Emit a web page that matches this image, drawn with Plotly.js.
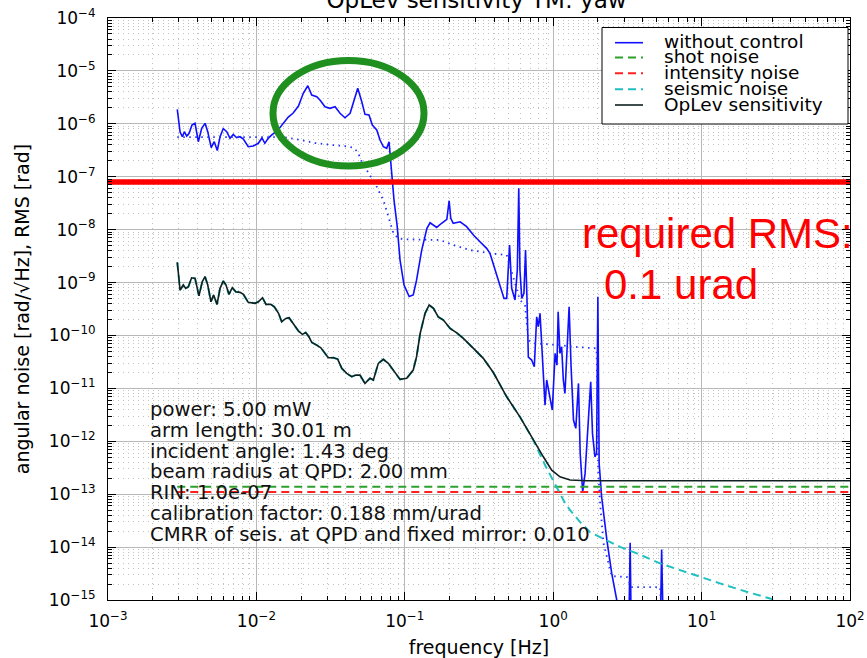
<!DOCTYPE html>
<html><head><meta charset="utf-8">
<script src="https://cdn.plot.ly/plotly-3.0.1.min.js"></script>
<style>html,body{margin:0;padding:0;background:#fff;}#chart{width:867px;height:658px;}</style>
</head><body><div id="chart"></div>
<script>
// ---- tick labels ----
const xTickVals = [1e-3, 1e-2, 1e-1, 1e0, 1e1, 1e2];
const xTickText = ['10<sup>−3</sup>', '10<sup>−2</sup>', '10<sup>−1</sup>', '10<sup>0</sup>', '10<sup>1</sup>', '10<sup>2</sup>'];
const yTickVals = [1e-15, 1e-14, 1e-13, 1e-12, 1e-11, 1e-10, 1e-9, 1e-8, 1e-7, 1e-6, 1e-5, 1e-4];
const yTickText = ['10<sup>−15</sup>', '10<sup>−14</sup>', '10<sup>−13</sup>', '10<sup>−12</sup>', '10<sup>−11</sup>', '10<sup>−10</sup>', '10<sup>−9</sup>', '10<sup>−8</sup>', '10<sup>−7</sup>', '10<sup>−6</sup>', '10<sup>−5</sup>', '10<sup>−4</sup>'];

// ---- without control (angular noise) ----
const ctrlFreq = [
 2.93e-3, 3.06e-3, 3.17e-3, 3.27e-3, 3.39e-3, 3.52e-3, 3.68e-3, 3.86e-3, 4.06e-3, 4.28e-3,
 4.51e-3, 4.70e-3, 4.96e-3, 5.20e-3, 5.45e-3, 5.69e-3, 5.98e-3, 6.31e-3, 6.64e-3, 6.99e-3,
 7.36e-3, 7.76e-3, 8.17e-3, 8.81e-3, 9.53e-3, 1.03e-2, 1.09e-2, 1.14e-2, 1.20e-2, 1.28e-2,
 1.37e-2, 1.49e-2, 1.64e-2, 1.77e-2, 1.92e-2, 2.07e-2, 2.22e-2, 2.36e-2, 2.55e-2, 2.68e-2,
 2.90e-2, 3.13e-2, 3.39e-2, 3.66e-2, 3.95e-2, 4.28e-2, 4.50e-2, 4.82e-2, 5.13e-2, 5.39e-2,
 5.74e-2, 6.04e-2, 6.47e-2, 6.81e-2, 7.17e-2, 7.55e-2, 7.83e-2, 8.07e-2, 8.46e-2, 8.87e-2,
 9.29e-2, 9.88e-2, 0.107, 0.114, 0.120, 0.130, 0.141, 0.148, 0.164, 0.177,
 0.192, 0.199, 0.204, 0.212, 0.236, 0.261, 0.290, 0.321, 0.356, 0.375,
 0.405, 0.438, 0.466, 0.486, 0.508, 0.525, 0.553, 0.573, 0.586, 0.597,
 0.614, 0.635, 0.651, 0.666, 0.680, 0.716, 0.746, 0.774, 0.794, 0.815,
 0.837, 0.881, 0.904, 0.953, 0.986, 1.03, 1.06, 1.08, 1.11, 1.14,
 1.17, 1.20, 1.28, 1.32, 1.37, 1.42, 1.48, 1.52, 1.58, 1.64,
 1.72, 1.79, 1.84, 1.91, 1.96, 2.00, 2.04, 2.12, 2.30, 2.48,
 2.68, 2.82, 3.24, 3.30, 3.35, 5.28, 5.38, 5.50, 100
];
const ctrlVal = [
 1.88e-6, 7.00e-7, 5.70e-7, 7.10e-7, 5.87e-7, 6.61e-7, 9.48e-7, 1.02e-6, 4.59e-7, 8.22e-7,
 1.02e-6, 7.10e-7, 3.56e-7, 4.59e-7, 3.13e-7, 5.70e-7, 8.15e-7, 7.10e-7, 5.32e-7, 6.33e-7,
 5.46e-7, 5.70e-7, 5.16e-7, 3.69e-7, 3.80e-7, 4.28e-7, 5.40e-7, 4.28e-7, 5.32e-7, 6.33e-7,
 7.10e-7, 9.48e-7, 1.34e-6, 1.60e-6, 2.17e-6, 3.78e-6, 5.25e-6, 3.50e-6, 3.25e-6, 2.82e-6,
 2.10e-6, 1.96e-6, 2.10e-6, 1.58e-6, 1.30e-6, 1.58e-6, 2.44e-6, 4.69e-6, 2.62e-6, 1.51e-6,
 1.47e-6, 9.48e-7, 7.64e-7, 4.94e-7, 3.69e-7, 3.44e-7, 4.59e-7, 1.66e-7, 3.62e-8, 1.22e-8,
 2.66e-9, 8.97e-10, 5.43e-10, 5.81e-10, 1.11e-9, 4.11e-9, 1.06e-8, 1.35e-8, 1.10e-8, 1.32e-8,
 1.57e-8, 3.52e-8, 1.64e-8, 1.32e-8, 1.41e-8, 1.14e-8, 7.91e-9, 5.90e-9, 4.43e-9, 3.56e-9,
 1.72e-9, 8.33e-10, 5.02e-10, 5.02e-10, 5.12e-9, 7.77e-10, 4.67e-10, 1.72e-9, 6.04e-8, 1.72e-9,
 5.02e-10, 6.25e-10, 4.11e-9, 4.67e-10, 3.90e-11, 3.43e-11, 2.56e-11, 2.25e-10, 1.46e-10, 2.62e-10,
 6.11e-11, 4.83e-12, 1.44e-11, 6.01e-12, 3.89e-12, 4.58e-11, 2.75e-11, 2.81e-10, 4.58e-11, 6.11e-11,
 1.44e-11, 8.04e-12, 3.48e-10, 2.56e-11, 2.52e-12, 1.75e-12, 1.24e-11, 5.90e-13, 1.11e-13, 2.47e-13,
 2.52e-12, 1.33e-11, 1.41e-12, 5.09e-13, 5.90e-13, 5.40e-10, 3.82e-13, 8.93e-14, 1.36e-14, 3.18e-15,
 1.0e-15, 4e-16, 4e-16, 1.21e-14, 4e-16, 4e-16, 9.04e-15, 4e-16, 2e-16
];

// ---- RMS of "without control" (dotted) ----
const rmsFreq = [
 2.93e-3, 1.51e-2, 1.92e-2, 2.48e-2, 3.22e-2, 3.95e-2, 4.50e-2, 4.82e-2, 5.13e-2, 5.83e-2,
 6.47e-2, 7.17e-2, 7.74e-2, 8.37e-2, 9.04e-2, 0.103, 0.173, 0.212, 0.275, 0.375,
 0.486, 0.597, 0.646, 0.680, 0.735, 0.904, 1.11, 1.37, 1.96, 2.01,
 2.07, 2.18, 2.35, 2.48, 3.15, 3.35, 5.25, 5.41
];
const rmsVal = [
 5.62e-7, 5.62e-7, 5.05e-7, 4.34e-7, 3.97e-7, 3.80e-7, 3.53e-7, 2.93e-7, 1.92e-7, 1.08e-7,
 6.47e-8, 3.62e-8, 1.75e-8, 8.63e-9, 6.79e-9, 6.56e-9, 6.36e-9, 5.12e-9, 4.11e-9, 3.56e-9,
 3.31e-9, 4.67e-10, 3.76e-10, 8.18e-11, 7.1e-11, 6.9e-11, 6.58e-11, 6.11e-11, 5.70e-11, 2.85e-13,
 6.79e-14, 1.19e-14, 5.20e-15, 2.83e-15, 2.71e-15, 1.75e-15, 1.75e-15, 4e-16
];

// ---- OpLev sensitivity ----
const opFreq = [
 2.93e-3, 3.06e-3, 3.22e-3, 3.34e-3, 3.48e-3, 3.66e-3, 3.86e-3, 4.10e-3, 4.32e-3, 4.51e-3,
 4.70e-3, 4.94e-3, 5.15e-3, 5.43e-3, 5.69e-3, 5.98e-3, 6.24e-3, 6.53e-3, 6.88e-3, 7.26e-3,
 7.76e-3, 8.17e-3, 8.81e-3, 9.79e-3, 1.03e-2, 1.10e-2, 1.16e-2, 1.25e-2, 1.32e-2, 1.41e-2,
 1.48e-2, 1.58e-2, 1.66e-2, 1.77e-2, 1.92e-2, 2.04e-2, 2.15e-2, 2.26e-2, 2.36e-2, 2.55e-2,
 2.72e-2, 2.90e-2, 3.05e-2, 3.30e-2, 3.53e-2, 3.76e-2, 4.06e-2, 4.39e-2, 4.67e-2, 4.99e-2,
 5.39e-2, 5.83e-2, 6.14e-2, 6.63e-2, 7.17e-2, 7.74e-2, 8.37e-2, 9.29e-2, 0.103, 0.114,
 0.120, 0.127, 0.137, 0.146, 0.156, 0.168, 0.182, 0.202, 0.224, 0.248,
 0.290, 0.338, 0.395, 0.486, 0.597, 0.735, 0.858, 0.977, 1.11, 1.30,
 1.68, 100
];
const opVal = [
 2.41e-9, 7.21e-10, 8.97e-10, 7.77e-10, 8.33e-10, 1.23e-9, 1.20e-9, 5.62e-10, 1.04e-9, 1.29e-9,
 8.97e-10, 4.34e-10, 5.81e-10, 3.87e-10, 7.77e-10, 1.07e-9, 8.97e-10, 5.98e-10, 7.98e-10, 6.70e-10,
 6.53e-10, 5.98e-10, 4.23e-10, 4.05e-10, 4.34e-10, 5.16e-10, 3.87e-10, 3.87e-10, 3.48e-10, 2.62e-10,
 1.82e-10, 2.10e-10, 2.16e-10, 1.69e-10, 1.21e-10, 1.05e-10, 1.14e-10, 9.44e-11, 7.40e-11, 6.58e-11,
 5.85e-11, 4.58e-11, 3.79e-11, 3.79e-11, 3.58e-11, 2.39e-11, 1.92e-11, 1.66e-11, 1.78e-11, 1.78e-11,
 1.24e-11, 1.55e-11, 1.44e-11, 2.97e-11, 3.53e-11, 2.97e-11, 2.22e-11, 1.48e-11, 1.55e-11, 2.22e-11,
 3.96e-11, 1.10e-10, 2.62e-10, 3.76e-10, 3.25e-10, 2.25e-10, 1.95e-10, 1.36e-10, 1.12e-10, 8.81e-11,
 5.70e-11, 3.69e-11, 1.99e-11, 6.93e-12, 2.90e-12, 1.05e-12, 5.09e-13, 2.85e-13, 2.13e-13, 1.85e-13,
 1.79e-13, 1.79e-13
];

// ---- seismic noise: below ~0.75 Hz it lies under the OpLev curve ----
const seisSharedPoints = 76;
const seisFreqHigh = [0.881, 0.982, 1.079, 1.202, 1.30, 1.52, 1.77, 2.18, 2.82, 3.66, 5.25, 7.16, 9.75, 13.3, 20.1, 28.9, 46.0, 100];
const seisValHigh = [3.55e-13, 2.01e-13, 1.19e-13, 6.79e-14, 5.00e-14, 2.96e-14, 1.92e-14, 1.46e-14, 1.01e-14, 7.60e-15, 4.92e-15, 3.67e-15, 2.74e-15, 2.06e-15, 1.43e-15, 1.07e-15, 6e-16, 3e-16];

// ---- flat noise levels ----
const flatFreq = [2.93e-3, 100];
const shotLevel = 1.38e-13;
const intensityLevel = 1.10e-13;
const requiredRms = 7.94e-8;
const rmsFreqSpan = [1e-3, 1e2];

// ---- texts ----
const titleText = 'OpLev sensitivity TM: yaw';
const infoLines = [
 'power: 5.00 mW',
 'arm length: 30.01 m',
 'incident angle: 1.43 deg',
 'beam radius at QPD: 2.00 mm',
 'RIN: 1.0e-07',
 'calibration factor: 0.188 mm/urad',
 'CMRR of seis. at QPD and fixed mirror: 0.010'
];
const legendLabels = ['without control', 'shot noise', 'intensity noise', 'seismic noise', 'OpLev sensitivity'];
const requiredText = ['required RMS:', '0.1 urad'];

// ---- styles ----
const styles = [
 {color: '#1010ff', width: 1.6, dash: 'solid'},
 {color: '#2ca02c', width: 2, dash: '8px,5px'},
 {color: '#ff2020', width: 2, dash: '8px,5px'},
 {color: '#20c0c0', width: 2, dash: '8px,5px'},
 {color: '#102020', width: 1.6, dash: 'solid'}
];

const traces = [
 {x: ctrlFreq, y: ctrlVal, name: legendLabels[0], mode: 'lines', line: styles[0], showlegend: false},
 {x: rmsFreq, y: rmsVal, name: 'RMS', mode: 'lines', line: {color: '#2030ff', width: 1.8, dash: '1.5px,4.5px'}, showlegend: false},
 {x: flatFreq, y: [shotLevel, shotLevel], name: legendLabels[1], mode: 'lines', line: styles[1], showlegend: false},
 {x: flatFreq, y: [intensityLevel, intensityLevel], name: legendLabels[2], mode: 'lines', line: styles[2], showlegend: false},
 {x: opFreq.slice(0, seisSharedPoints).concat(seisFreqHigh), y: opVal.slice(0, seisSharedPoints).concat(seisValHigh), name: legendLabels[3], mode: 'lines', line: styles[3], showlegend: false},
 {x: opFreq, y: opVal, name: legendLabels[4], mode: 'lines', line: styles[4], showlegend: false},
 {x: rmsFreqSpan, y: [requiredRms, requiredRms], name: 'required RMS', mode: 'lines', line: {color: '#ff0000', width: 5.5}, showlegend: false}
];

// plot area: x 108..850, y 18..600 px
const L = 108, R = 850, T = 18, B = 600;
const px = v => (v - L) / (R - L);
const py = v => 1 - (v - T) / (B - T);

const shapes = [];
const annotations = [];

// legend box
shapes.push({type: 'rect', xref: 'paper', yref: 'paper', x0: px(602), x1: px(848), y0: py(124), y1: py(27.5), line: {color: '#000', width: 1}, fillcolor: '#fff', layer: 'above'});
const legendRowY = [42.7, 57.5, 73.3, 89.2, 105];
legendLabels.forEach((lab, i) => {
  shapes.push({type: 'line', xref: 'paper', yref: 'paper', x0: px(615), x1: px(643), y0: py(legendRowY[i]), y1: py(legendRowY[i]), line: styles[i], layer: 'above'});
  annotations.push({xref: 'paper', yref: 'paper', x: px(662), y: py(legendRowY[i] - 1), xanchor: 'left', yanchor: 'middle', text: lab, showarrow: false, font: {family: 'DejaVu Sans', size: 18.5, color: '#000'}});
});

// ellipse highlight
shapes.push({type: 'circle', xref: 'paper', yref: 'paper', x0: px(273), x1: px(424), y0: py(166), y1: py(60.5), line: {color: '#1f8f1f', width: 7}, layer: 'above'});

// info text block
infoLines.forEach((t, i) => {
  annotations.push({xref: 'paper', yref: 'paper', x: px(148), y: py(409.5 + i * 20.75), xanchor: 'left', yanchor: 'middle', text: t, showarrow: false, font: {family: 'DejaVu Sans', size: 19.6, color: '#111'}});
});

// required RMS text
annotations.push({xref: 'paper', yref: 'paper', x: px(580), y: py(233), xanchor: 'left', yanchor: 'middle', text: requiredText[0], showarrow: false, font: {family: 'Liberation Sans, Arial', size: 42, color: '#ff0000'}});
annotations.push({xref: 'paper', yref: 'paper', x: px(602), y: py(285), xanchor: 'left', yanchor: 'middle', text: requiredText[1], showarrow: false, font: {family: 'Liberation Sans, Arial', size: 42, color: '#ff0000'}});

function axisBase() {
  return {
    type: 'log', tickmode: 'array', ticks: 'inside', ticklen: 8, tickwidth: 1, tickcolor: '#000',
    showline: true, linecolor: '#000', linewidth: 1, mirror: 'allticks',
    showgrid: true, gridcolor: '#b8b8b8', gridwidth: 1, zeroline: false,
    minor: {dtick: 'D1', ticks: 'inside', ticklen: 4, tickcolor: '#000', showgrid: true, gridcolor: '#c2c2c2', griddash: '1px,4px', gridwidth: 1},
    tickfont: {family: 'DejaVu Sans', size: 17, color: '#000'}
  };
}

const xaxis = Object.assign(axisBase(), {
  range: [-3, 2], tickvals: xTickVals, ticktext: xTickText, ticklabelstandoff: 6,
  title: {text: 'frequency [Hz]', font: {family: 'DejaVu Sans', size: 19, color: '#000'}, standoff: 12}
});
const yaxis = Object.assign(axisBase(), {
  range: [-15, -4], tickvals: yTickVals, ticktext: yTickText, ticklabelstandoff: 8,
  title: {text: 'angular noise [rad/√Hz], RMS [rad]', font: {family: 'DejaVu Sans', size: 19, color: '#000'}, standoff: 14}
});

const layout = {
  width: 867, height: 658,
  margin: {l: L, r: 867 - R, t: T, b: 658 - B, pad: 0},
  paper_bgcolor: '#fff', plot_bgcolor: '#fff',
  title: {text: titleText, font: {family: 'DejaVu Sans', size: 23, color: '#000'}, x: px(476.5), xref: 'paper', y: 1, yref: 'container', yanchor: 'middle'},
  xaxis: xaxis, yaxis: yaxis,
  shapes: shapes, annotations: annotations,
  showlegend: false, hovermode: false
};

Plotly.newPlot('chart', traces, layout, {displayModeBar: false, staticPlot: true});
</script></body></html>
